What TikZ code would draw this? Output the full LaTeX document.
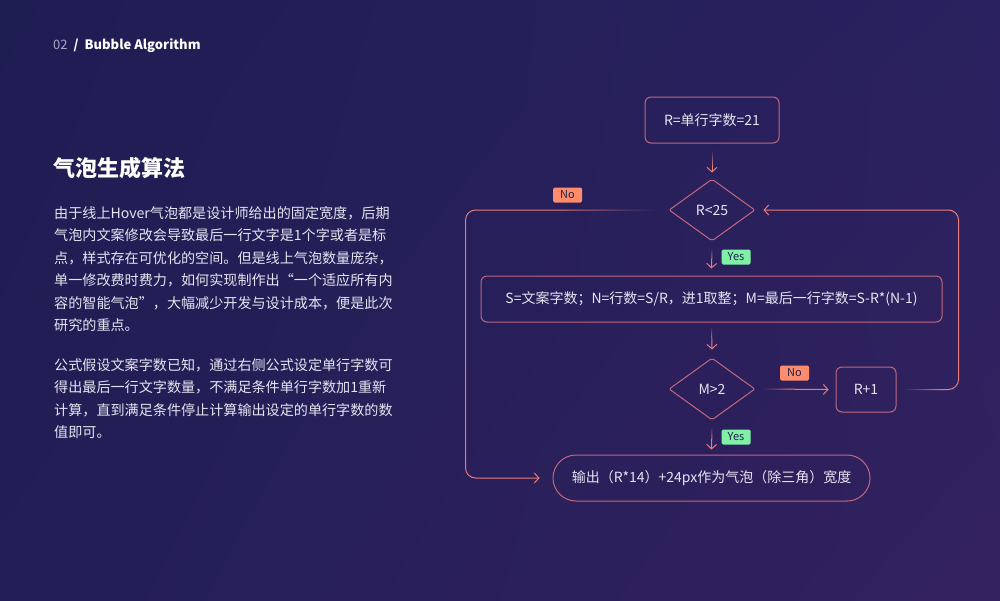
\documentclass[tikz,border=0pt]{standalone}
\usepackage{fontspec}
\setmainfont{Noto Sans CJK SC}
\usetikzlibrary{arrows.meta,shapes.geometric,calc,shadings,fadings}
\definecolor{bgUL}{HTML}{1E1D52}
\definecolor{bgUR}{HTML}{2A2160}
\definecolor{bgLL}{HTML}{221E56}
\definecolor{bgLR}{HTML}{33215E}
\definecolor{txt}{HTML}{E6E4F2}
\definecolor{dim}{HTML}{A9A7C8}
\definecolor{boxc}{HTML}{C2687E}
\definecolor{arrc}{HTML}{E97C7A}
\definecolor{noc}{HTML}{FF8C6C}
\definecolor{yesc}{HTML}{80F0A6}
\definecolor{labtxt}{HTML}{1E2450}
\definecolor{bgA}{HTML}{28205C}
\definecolor{bgB}{HTML}{2A205C}
\definecolor{bgC}{HTML}{2B205C}
\definecolor{bgD}{HTML}{2C205C}
\definecolor{bgE}{HTML}{2F215E}
\definecolor{bgF}{HTML}{28205A}
\begin{document}
\begin{tikzpicture}[x=1pt,y=-1pt,
  box/.style={draw=boxc, line width=1pt, rounded corners=6pt, text=txt, inner sep=0pt,
    font=\fontsize{14}{16}\selectfont},
  dia/.style={diamond, draw=boxc, line width=1pt, rounded corners=2pt, text=txt, inner sep=0pt,
    minimum width=86pt, minimum height=62pt, font=\fontsize{14}{16}\selectfont},
  arr/.style={draw=arrc, line width=1pt, -{Straight Barb[length=4.5pt,width=10pt]}},
  nolab/.style={fill=noc, text=labtxt, rounded corners=1.5pt, inner sep=0pt,
    minimum width=29pt, minimum height=15pt, font=\fontsize{11}{12}\selectfont},
  yeslab/.style={nolab, fill=yesc},
  body/.style={anchor=base west, inner sep=0pt, text=txt, font=\fontsize{14.1}{16}\selectfont}]
\useasboundingbox (0,0) rectangle (1000,600);
\shade[upper left=bgUL, upper right=bgUR, lower left=bgLL, lower right=bgLR] (0,0) rectangle (1000,600);

% header
\node[anchor=base west, inner sep=0pt, font=\fontsize{13}{15}\selectfont] (hdr) at (53,49.7)
  {\textcolor{dim}{02}\hspace{6pt}\textcolor{white}{\bfseries /\hspace{6pt}Bubble Algorithm}};
\node[anchor=base west, inner sep=0pt, text=white, font=\fontsize{22}{26}\selectfont\bfseries] (ttl) at (53.5,176.4) {气泡生成算法};

% paragraph 1
\node[body] (a1) at (54,218.3) {由于线上Hover气泡都是设计师给出的固定宽度，后期};
\node[body] (a2) at (54,240.8) {气泡内文案修改会导致最后一行文字是1个字或者是标};
\node[body] (a3) at (54,263.3) {点，样式存在可优化的空间。但是线上气泡数量庞杂，};
\node[body] (a4) at (54,285.8) {单一修改费时费力，如何实现制作出“一个适应所有内};
\node[body] (a5) at (54,308.3) {容的智能气泡”，大幅减少开发与设计成本，便是此次};
\node[body] (a6) at (54,330.8) {研究的重点。};
% paragraph 2
\node[body] (b1) at (54,370.3) {公式假设文案字数已知，通过右侧公式设定单行字数可};
\node[body] (b2) at (54,392.8) {得出最后一行文字数量，不满足条件单行字数加1重新};
\node[body] (b3) at (54,415.3) {计算，直到满足条件停止计算输出设定的单行字数的数};
\node[body] (b4) at (54,437.8) {值即可。};

% flowchart nodes
\node[box, minimum width=134pt, minimum height=46pt] (n1) at (712,120) {R=单行字数=21};
\node[dia] (d1) at (712,210) {R<25};
\node[box, minimum width=461pt, minimum height=46pt] (n2) at (711.5,299) {S=文案字数；N=行数=S/R，进1取整；M=最后一行字数=S-R*(N-1)};
\node[dia] (d2) at (712,389) {M>2};
\node[box, minimum width=60pt, minimum height=45pt] (n3) at (866,389.5) {R+1};
\node[box, rounded corners=23pt, minimum width=317pt, minimum height=46pt] (n4) at (711.5,478) {输出（R*14）+24px作为气泡（除三角）宽度};

% labels
\node[nolab] (no1) at (567.5,195) {No};
\node[yeslab] (yes1) at (736,257) {Yes};
\node[nolab] (no2) at (794.5,373) {No};
\node[yeslab] (yes2) at (736,437) {Yes};

% connectors
\draw[arr] ($(n1.south)+(0,7)$) -- ($(d1.north)+(0,-6)$);
\draw[arr] ($(d1.south)+(0,7)$) -- ($(n2.north)+(0,-7)$);
\draw[arr] ($(n2.south)+(0,5)$) -- ($(d2.north)+(0,-8)$);
\draw[arr] ($(d2.south)+(0,7)$) -- ($(n4.north)+(0,-5)$);
\draw[arr] ($(d2.east)+(8,0)$) -- ($(n3.west)+(-7,0)$);
\coordinate (rr) at (958.5,300);
\coordinate (ll) at (465.5,340);
\draw[arr, rounded corners=10pt] ($(n3.east)+(8,0)$) -| (rr) |- ($(d1.east)+(8,0)$);
\draw[arr, rounded corners=10pt] ($(d1.west)+(-12,0)$) -| (ll) |- ($(n4.west)+(-13,0)$);

% fade-in of the connector starts
\fill[bgA, path fading=south] ($(n1.south)+(-2,6)$) rectangle ($(n1.south)+(2,22)$);
\fill[bgB, path fading=south] ($(d1.south)+(-2,6)$) rectangle ($(d1.south)+(2,18)$);
\fill[bgC, path fading=south] ($(n2.south)+(-2,4)$) rectangle ($(n2.south)+(2,18)$);
\fill[bgD, path fading=south] ($(d2.south)+(-2,6)$) rectangle ($(d2.south)+(2,18)$);
\fill[bgD, path fading=east] ($(d2.east)+(7,-2)$) rectangle ($(d2.east)+(35,2)$);
\fill[bgE, path fading=east] ($(n3.east)+(7,-2)$) rectangle ($(n3.east)+(45,2)$);
\fill[bgF, path fading=west] ($(d1.west)+(-110,-2)$) rectangle ($(d1.west)+(-11,2)$);
\end{tikzpicture}
\end{document}
